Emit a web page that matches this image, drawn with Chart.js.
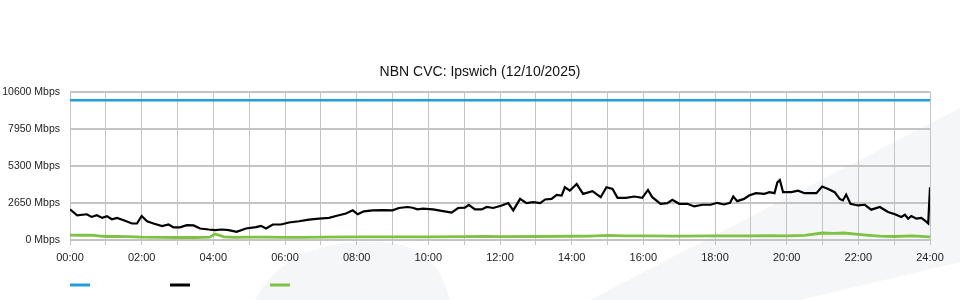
<!DOCTYPE html>
<html>
<head>
<meta charset="utf-8">
<script src="https://cdn.jsdelivr.net/npm/chart.js@4/dist/chart.umd.min.js"></script>
<style>
  html, body { margin: 0; padding: 0; background: #fff; }
  #wrap { width: 960px; height: 300px; }
</style>
</head>
<body>
<div id="wrap"><canvas id="cvc" width="960" height="300"></canvas></div>
<script>
// Eixo X: rótulos a cada 2 horas
const tickLabels = ['00:00', '02:00', '04:00', '06:00', '08:00', '10:00', '12:00',
  '14:00', '16:00', '18:00', '20:00', '22:00', '24:00'];

// Capacidade (linha azul)
const capHours = [0, 24];
const capMbps = [10000, 10000];

// Tráfego total (linha preta), horas decimais
const trafHours = [0.00, 0.20, 0.47, 0.60, 0.75, 0.90, 1.03, 1.17, 1.31, 1.50, 1.73, 1.87,
  2.00, 2.15, 2.33, 2.57, 2.75, 2.89, 3.07, 3.26, 3.45, 3.63, 3.87, 4.05, 4.24, 4.43,
  4.65, 4.91, 5.19, 5.33, 5.47, 5.66, 5.89, 6.11, 6.39, 6.67, 6.95, 7.23, 7.42, 7.70,
  7.89, 8.03, 8.20, 8.45, 8.73, 9.00, 9.18, 9.42, 9.56, 9.70, 9.85, 10.13, 10.41, 10.65,
  10.83, 11.02, 11.13, 11.30, 11.49, 11.63, 11.81, 12.05, 12.23, 12.37, 12.56, 12.74,
  12.93, 13.12, 13.26, 13.44, 13.58, 13.72, 13.81, 13.95, 14.14, 14.32, 14.58, 14.81,
  14.97, 15.14, 15.28, 15.51, 15.75, 15.97, 16.13, 16.25, 16.48, 16.67, 16.81, 17.00,
  17.23, 17.42, 17.65, 17.88, 18.06, 18.25, 18.42, 18.51, 18.62, 18.81, 18.95, 19.14,
  19.38, 19.52, 19.66, 19.74, 19.81, 19.90, 20.13, 20.32, 20.50, 20.83, 20.99, 21.16,
  21.34, 21.48, 21.57, 21.66, 21.78, 21.99, 22.18, 22.36, 22.60, 22.83, 23.02, 23.20,
  23.30, 23.39, 23.48, 23.62, 23.76, 23.85, 23.95, 24.00];
const trafMbps = [2190, 1770, 1840, 1650, 1770, 1580, 1700, 1480, 1580, 1410, 1180, 1180,
  1720, 1340, 1180, 990, 1110, 900, 900, 1060, 1040, 820, 750, 710, 750, 710,
  590, 820, 920, 1010, 820, 1110, 1110, 1250, 1340, 1460, 1530, 1580, 1720, 1890,
  2120, 1840, 2050, 2120, 2140, 2120, 2290, 2360, 2310, 2190, 2240, 2190, 2070, 1960,
  2290, 2310, 2520, 2190, 2190, 2360, 2290, 2470, 2640, 2120, 2940, 2640,
  2710, 2640, 2900, 2940, 3230, 3180, 3770, 3530, 4000, 3300, 3490, 3060,
  3770, 3650, 3020, 3020, 3110, 3020, 3580, 3060, 2590, 2640, 2870, 2590,
  2590, 2400, 2520, 2520, 2660, 2540, 2660, 3110, 2780, 2940, 3180, 3350,
  3300, 3420, 3350, 4120, 4290, 3420, 3420, 3530, 3350, 3350, 3820, 3650,
  3420, 2940, 2830, 3250, 2590, 2470, 2520, 2170, 2360, 2000, 1840, 1650,
  1810, 1530, 1720, 1530, 1580, 1410, 1180, 3770];

// Linha verde
const lowHours = [0, 0.3, 0.6, 0.8, 1.0, 1.3, 1.6, 2.0, 2.5, 3.0, 3.5, 3.9, 4.05, 4.3,
  4.6, 5.0, 5.5, 6.0, 6.5, 7.0, 8.0, 9.0, 10.0, 11.0, 11.5, 12.0, 13.0, 14.0, 14.5,
  15.0, 15.5, 16.0, 17.0, 18.0, 19.0, 19.5, 20.0, 20.5, 21.0, 21.3, 21.6, 22.0, 22.3,
  22.6, 23.0, 23.5, 24.0];
const lowMbps = [350, 340, 350, 290, 250, 260, 240, 200, 190, 180, 180, 200, 430, 220,
  190, 200, 210, 190, 190, 200, 220, 220, 230, 240, 260, 240, 250, 270, 280,
  330, 300, 290, 280, 290, 290, 320, 300, 330, 500, 470, 500, 400, 330,
  270, 250, 300, 230];

const pares = (xs, ys) => xs.map((x, i) => ({ x, y: ys[i] }));

const fonte = '"Liberation Sans", Arial, sans-serif';

// Marca d'água cinza clara ao fundo
const fundo = {
  id: 'fundo',
  beforeDraw(chart) {
    const ctx = chart.ctx;
    ctx.save();
    ctx.fillStyle = '#f5f6f8';
    ctx.beginPath();
    ctx.moveTo(590, 300);
    ctx.lineTo(960, 108);
    ctx.lineTo(960, 262);
    ctx.lineTo(800, 300);
    ctx.closePath();
    ctx.fill();
    ctx.beginPath();
    ctx.moveTo(255, 300);
    ctx.bezierCurveTo(280, 252, 330, 240, 380, 242);
    ctx.bezierCurveTo(420, 244, 440, 262, 450, 300);
    ctx.closePath();
    ctx.fill();
    ctx.restore();
  },
};

// Legenda só com os traços coloridos, sem texto
const legenda = {
  id: 'legenda',
  afterDraw(chart) {
    const ctx = chart.ctx;
    ctx.save();
    ctx.lineWidth = 3;
    chart.data.datasets.forEach((ds, i) => {
      const x = chart.chartArea.left + i * 100;
      ctx.strokeStyle = ds.borderColor;
      ctx.beginPath();
      ctx.moveTo(x, 285);
      ctx.lineTo(x + 20, 285);
      ctx.stroke();
    });
    ctx.restore();
  },
};

new Chart(document.getElementById('cvc'), {
  type: 'line',
  data: {
    datasets: [
      { data: pares(capHours, capMbps), borderColor: '#1e9fdc', borderWidth: 2.5 },
      { data: pares(trafHours, trafMbps), borderColor: '#000000', borderWidth: 2.2 },
      { data: pares(lowHours, lowMbps), borderColor: '#7fc241', borderWidth: 2.8 },
    ],
  },
  options: {
    responsive: false,
    animation: false,
    events: [],
    layout: { padding: { left: 0, right: 0, top: 64, bottom: 35 } },
    elements: { point: { radius: 0 }, line: { tension: 0 } },
    plugins: {
      legend: { display: false },
      tooltip: { enabled: false },
      title: {
        display: true,
        text: 'NBN CVC: Ipswich (12/10/2025)',
        color: '#111',
        font: { family: fonte, size: 14, weight: 'normal' },
        padding: { top: 0, bottom: 11 },
      },
    },
    scales: {
      x: {
        type: 'linear',
        min: 0,
        max: 24,
        afterFit: (s) => { s.height = 25; },
        ticks: {
          stepSize: 1,
          autoSkip: false,
          maxRotation: 0,
          padding: 6,
          color: '#222',
          font: { family: fonte, size: 11 },
          callback: (v) => (v % 2 === 0 ? tickLabels[v / 2] : ''),
        },
        grid: { color: '#c4c4c4', lineWidth: 1, tickLength: 5 },
        border: { display: false },
      },
      y: {
        min: 0,
        max: 10600,
        afterFit: (s) => { s.width = 70; },
        ticks: {
          stepSize: 2650,
          padding: 10,
          color: '#222',
          font: { family: fonte, size: 10.5 },
          callback: (v) => v + ' Mbps',
        },
        grid: { color: '#c4c4c4', lineWidth: 2, drawTicks: false },
        border: { display: false },
      },
      // margem direita vazia, para o título ficar centrado na tela
      margem: {
        type: 'linear',
        position: 'right',
        afterFit: (s) => { s.width = 30; },
        ticks: { display: false },
        grid: { display: false },
        border: { display: false },
      },
    },
  },
  plugins: [fundo, legenda],
});
</script>
</body>
</html>
